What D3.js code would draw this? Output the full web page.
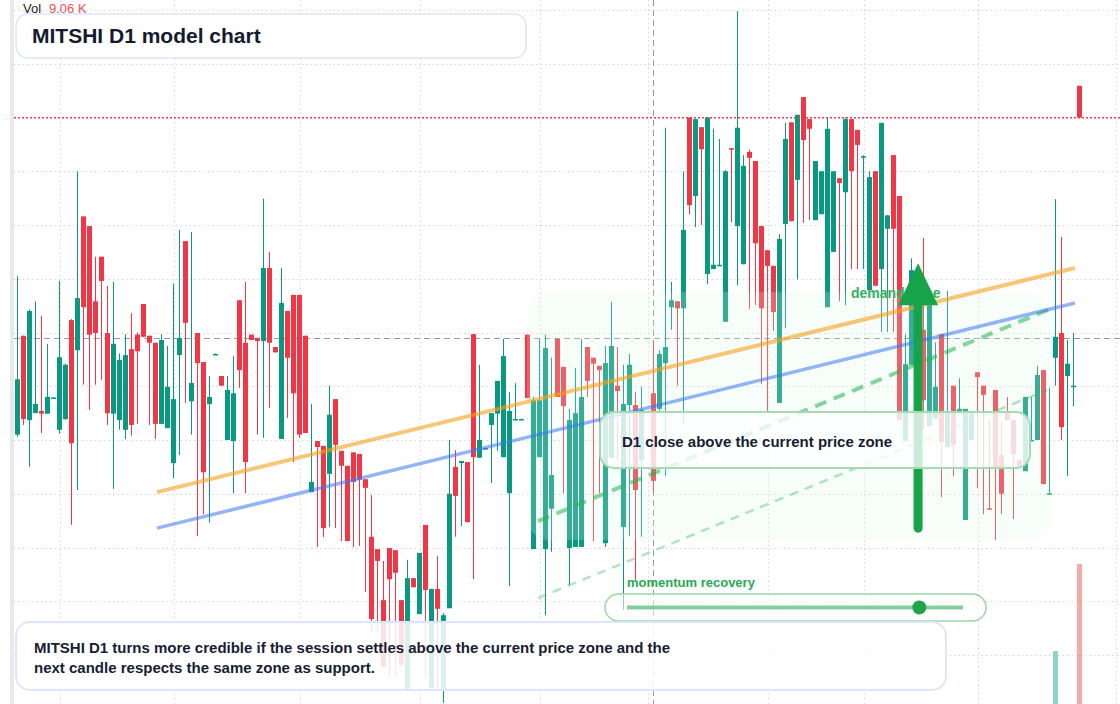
<!DOCTYPE html>
<html>
<head>
<meta charset="utf-8">
<script src="https://cdn.jsdelivr.net/npm/d3@7"></script>
<style>
html, body { margin:0; padding:0; background:#fff; }
svg { display:block; font-family:"Liberation Sans", Arial, sans-serif; }
</style>
</head>
<body>
<svg id="chart" width="1120" height="704"></svg>
<script>
// daily candles, [open, high, low, close]; null = no session
const candles = [
  [24.10,27.05,24.06,25.13],[25.94,25.94,24.28,24.39],[24.37,26.43,23.50,26.40],[24.50,26.58,24.50,24.67],
  [24.54,26.31,24.13,24.49],[24.49,25.79,24.49,24.80],[24.78,24.80,24.77,24.79],[24.19,26.96,24.12,25.54],
  [24.39,25.42,24.37,25.40],[26.23,26.25,22.42,23.94],[25.67,29.00,23.07,26.64],[28.16,28.16,25.03,26.47],
  [27.98,27.98,24.56,25.96],[26.58,27.41,25.03,25.99],[27.41,27.41,25.12,26.96],[25.99,26.87,24.28,24.50],
  [24.49,26.94,23.09,25.79],[24.37,25.61,24.19,25.49],[24.19,25.97,24.02,25.58],[25.69,26.36,24.08,24.28],
  [25.96,26.00,24.30,25.65],[26.53,26.53,25.92,25.92],[25.94,25.94,24.28,25.81],[25.81,25.81,24.02,24.30],
  [24.30,25.97,24.30,25.86],[24.22,25.75,24.22,24.99],[23.57,26.91,23.29,24.76],[25.58,27.91,23.72,25.90],
  [27.70,27.70,24.69,26.18],[24.72,27.87,24.10,25.06],[25.99,25.99,22.21,25.43],[25.45,25.45,22.62,23.40],
  [24.67,25.19,22.46,24.80],[25.60,25.61,25.59,25.60],[25.19,25.19,25.01,25.01],[24.00,25.19,24.00,24.93],
  [23.98,25.56,23.01,24.87],[26.60,26.60,24.97,25.30],[25.81,26.94,23.01,23.59],[25.96,25.96,25.86,25.86],
  [25.90,25.90,24.10,25.84],[25.84,28.49,24.04,27.20],[27.20,27.50,24.60,25.81],[25.73,25.73,25.63,25.63],
  [24.02,27.20,24.02,26.55],[26.40,26.40,24.41,25.53],[26.70,26.70,23.59,24.87],[26.70,26.70,24.04,24.10],
  [25.94,25.94,24.13,24.13],[23.03,24.67,23.03,23.22],[23.98,23.98,22.01,23.87],[23.89,23.89,22.19,22.36],
  [23.37,25.01,22.38,24.47],[24.76,24.76,22.36,23.91],[23.80,23.80,22.12,23.52],[23.52,23.52,22.12,22.12],
  [23.77,23.77,22.01,23.22],[23.74,23.74,22.03,23.26],[23.27,23.27,21.17,23.11],[22.20,22.98,20.43,20.67],
  [21.97,21.97,20.41,21.75],[21.02,21.75,19.78,19.78],[21.99,21.99,19.61,21.41],[21.95,21.95,19.61,21.53],
  [21.02,21.02,19.78,19.82],[19.35,21.77,19.35,21.43],[21.43,21.43,21.26,21.26],[20.76,21.90,20.76,21.90],
  [22.42,22.42,19.59,21.21],[19.39,21.23,19.39,21.23],[21.23,21.84,19.35,20.86],[19.35,20.78,19.11,20.74],
  [20.87,24.00,20.87,23.00],[23.50,23.81,22.20,22.96],[23.57,23.61,22.40,23.61],[23.59,23.59,22.47,22.47],
  [25.97,25.97,21.41,23.68],[23.67,25.40,23.67,24.00],[23.85,23.86,23.84,23.85],[24.28,24.50,23.20,24.50],
  [24.49,25.10,23.80,25.10],[23.68,25.88,23.68,25.56],[23.01,24.89,21.28,24.54],[24.39,25.06,24.38,24.39],
  [24.39,24.40,24.38,24.39],[25.96,25.96,24.78,24.78],[21.97,24.80,21.97,24.74],[23.68,25.88,23.68,24.74],
  [21.97,25.96,20.74,25.71],[22.72,25.53,21.92,23.35],[25.88,25.88,24.80,24.80],[25.36,25.36,23.01,24.63],
  [21.99,24.58,21.30,24.37],[22.01,25.34,22.01,24.50],[22.01,25.88,22.01,24.80],[25.73,25.73,24.80,25.10],
  [25.53,25.53,22.12,25.42],[25.38,25.38,23.01,25.30],[22.08,25.75,22.01,25.43],[23.67,26.57,23.67,25.75],
  [25.01,25.73,23.63,24.91],[22.38,25.40,20.84,24.67],[24.65,25.60,22.21,25.40],[24.65,24.89,21.40,23.07],
  [23.63,24.99,22.20,24.56],null,[24.87,25.86,23.00,23.24],[24.58,25.67,24.52,25.60],
  [25.43,29.81,23.33,25.73],[26.47,26.94,26.05,26.60],[26.58,26.58,25.01,26.45],[26.45,29.00,24.30,27.91],
  [30.00,30.00,28.20,28.37],[28.54,29.97,27.96,29.97],[29.82,29.82,28.00,29.41],[27.09,30.00,26.90,30.00],
  [27.18,29.79,27.18,27.26],[27.26,29.60,27.25,27.26],[26.20,29.02,26.20,29.00],[29.43,29.43,28.05,29.40],
  [27.98,31.98,26.88,29.81],[27.27,29.30,27.27,29.10],[29.36,29.40,26.44,29.25],[29.19,29.19,26.51,27.66],
  [27.98,27.98,25.04,26.45],[27.53,27.53,24.54,27.24],[27.24,27.24,26.03,26.38],[24.69,27.83,24.69,27.74],
  [28.02,29.90,26.08,29.60],[29.91,29.91,28.07,28.07],[28.84,30.05,26.99,30.05],[30.38,30.38,28.04,29.58],
  [29.97,29.97,28.09,29.79],[28.09,29.19,28.09,29.19],[28.20,29.00,28.20,29.00],[26.47,30.00,26.47,29.79],
  [27.50,29.00,27.50,29.00],[28.87,28.87,26.58,28.78],[28.61,30.00,26.51,29.97],[29.97,29.97,27.18,29.00],
  [29.77,29.77,27.18,29.49],[29.27,29.30,27.18,29.28],[26.79,29.00,26.79,28.89],[29.00,29.00,26.87,26.87],
  [27.18,29.90,26.01,29.90],[27.93,28.18,26.01,28.18],[29.30,29.30,26.01,27.93],[28.54,28.54,24.37,24.37],
  [23.98,25.97,23.98,25.41],[25.40,27.38,25.40,27.16],[24.37,26.60,24.00,26.23],[26.05,27.76,24.19,24.74],
  [24.26,26.51,24.26,26.51],[24.39,25.82,24.39,24.99],[25.97,25.97,22.94,23.96],[23.87,26.77,23.87,24.50],
  [25.01,25.01,23.33,23.91],[24.50,25.15,24.50,24.58],[22.51,24.58,22.51,24.58],[24.00,24.52,24.00,24.52],
  [25.26,25.26,23.10,25.17],[25.01,25.01,22.62,24.84],[22.73,24.37,22.71,22.72],[24.93,24.93,22.14,23.46],
  [23.72,24.35,22.62,23.00],[24.50,24.80,24.37,24.37],[24.37,24.37,22.53,23.74],[23.63,23.63,23.50,23.50],
  [23.42,24.80,23.42,24.80],[23.98,24.80,23.98,24.00],[24.00,25.38,24.00,25.21],[25.30,25.30,23.18,23.18],
  [23.00,24.97,23.00,23.01],[25.53,28.48,25.01,25.92],[25.99,27.78,24.00,24.24],[25.19,25.86,23.33,25.42],
  [25.00,25.99,24.63,25.01],[30.59,30.59,30.00,30.00]
];
const priceTicks = [20,21,22,23,24,25,26,27,28,29,30,31,32];
const timeTicks  = [7,26,47,67,87,105,125,141,160,183];
const volIndex = [173, 177];
const volValue = [3.43, 9.06];          // thousands
const lastPrice = 30.00;
const crossIndex = 106, crossPrice = 25.90;
// trend lines: [startIndex, startPrice, endIndex, endPrice]
const orangeLine = [23.25, 23.03, 176.25, 27.20];
const blueLine   = [23.25, 22.36, 176.25, 26.55];
const channelTop = [86.75, 22.49, 171.75, 26.42];
const channelBot = [86.75, 21.06, 171.6, 24.93];
// demand zone [fromIndex, toIndex, lowPrice, highPrice]
const demandZone = [84.9, 172.4, 22.14, 26.75];
// arrow [index, basePrice, tipPrice]
const arrowSpec = [150.1, 22.36, 27.29];
const momentumValue = 0.87;

const UP = "#089981", DN = "#f23645";
const svg = d3.select("#chart");
const W = 1120, H = 704;

const x = d3.scaleLinear().domain([0, 177]).range([17.5, 17.5 + 6 * 177]);
const y = d3.scaleLinear().domain([20, 32]).range([655, 10]);
const vy = d3.scaleLinear().domain([0, d3.max(volValue)]).range([704, 564]);

// left price-scale strip
svg.append("rect").attr("x",10).attr("y",0).attr("width",4).attr("height",H).attr("fill","#e9e9e9");

// grid (the last-price line replaces its own grid row)
const grid = svg.append("g").attr("stroke","#d6d6d6").attr("stroke-dasharray","1.5,3").attr("stroke-width",1);
grid.selectAll("line.h").data(priceTicks.filter(p=>p!==lastPrice)).join("line").attr("class","h")
  .attr("x1",14).attr("x2",W).attr("y1",d=>Math.round(y(d))+0.5).attr("y2",d=>Math.round(y(d))+0.5);
grid.selectAll("line.v").data(timeTicks).join("line").attr("class","v")
  .attr("x1",d=>Math.round(x(d))+0.5).attr("x2",d=>Math.round(x(d))+0.5).attr("y1",0).attr("y2",H);

// crosshair
svg.append("line").attr("x1",Math.round(x(crossIndex))-0.5).attr("x2",Math.round(x(crossIndex))-0.5)
  .attr("y1",0).attr("y2",H).attr("stroke","#9a9a9a").attr("stroke-dasharray","6,4");
svg.append("line").attr("x1",14).attr("x2",W).attr("y1",Math.round(y(crossPrice))+0.5).attr("y2",Math.round(y(crossPrice))+0.5)
  .attr("stroke","#9a9a9a").attr("stroke-dasharray","6,4");

// candles
const bars = candles.map((d,i)=>d && ({i, o:d[0], h:d[1], l:d[2], c:d[3]})).filter(Boolean);
const cg = svg.append("g");
cg.selectAll("line").data(bars).join("line")
  .attr("x1",d=>x(d.i)).attr("x2",d=>x(d.i)).attr("y1",d=>y(d.h)).attr("y2",d=>y(d.l))
  .attr("stroke",d=>d.c>=d.o?UP:DN).attr("stroke-width",1);
cg.selectAll("rect").data(bars).join("rect")
  .attr("x",d=>x(d.i)-2.5).attr("width",5)
  .attr("y",d=>y(Math.max(d.o,d.c)))
  .attr("height",d=>Math.max(1.5, Math.abs(y(d.o)-y(d.c))))
  .attr("fill",d=>d.c>=d.o?UP:DN);

// volume
svg.append("g").selectAll("rect").data(volIndex).join("rect")
  .attr("x",(d)=>x(d)-2.5).attr("width",5)
  .attr("y",(d,k)=>vy(volValue[k])).attr("height",(d,k)=>704-vy(volValue[k]))
  .attr("fill",d=>{const c=candles[d]; return c[3]>=c[0] ? "rgba(38,166,154,0.5)" : "rgba(239,83,80,0.5)";});

// last price line, drawn as red dots
const lpY = Math.round(y(lastPrice));
svg.append("g").selectAll("rect").data(d3.range(14, W, 4)).join("rect")
  .attr("x",d=>d).attr("y",lpY).attr("width",2).attr("height",1.5).attr("fill","#f23645");

// demand zone
svg.append("rect")
  .attr("x",x(demandZone[0])).attr("width",x(demandZone[1])-x(demandZone[0]))
  .attr("y",y(demandZone[3])).attr("height",y(demandZone[2])-y(demandZone[3]))
  .attr("rx",22).attr("fill","rgba(220,252,231,0.22)");

// trend lines
function seg(spec){ return [[x(spec[0]),y(spec[1])],[x(spec[2]),y(spec[3])]]; }
const lineGen = d3.line();
svg.append("path").attr("d",lineGen(seg(channelBot))).attr("stroke","rgba(34,180,80,0.35)")
  .attr("stroke-width",2.5).attr("stroke-dasharray","9,7").attr("fill","none");
svg.append("path").attr("d",lineGen(seg(channelTop))).attr("stroke","rgba(34,180,80,0.55)")
  .attr("stroke-width",4).attr("stroke-dasharray","12,8").attr("fill","none");
svg.append("path").attr("d",lineGen(seg(blueLine))).attr("stroke","rgba(59,120,240,0.55)")
  .attr("stroke-width",3.5).attr("fill","none");
svg.append("path").attr("d",lineGen(seg(orangeLine))).attr("stroke","rgba(245,160,30,0.6)")
  .attr("stroke-width",4).attr("fill","none");

// demand zone label
svg.append("text").attr("x",851).attr("y",298).attr("font-size",14).attr("font-weight","bold")
  .attr("fill","#34b05c").text("demand zone");

// arrow
const ax = x(arrowSpec[0]), aBase = y(arrowSpec[1]), aTip = y(arrowSpec[2]);
svg.append("line").attr("x1",ax).attr("x2",ax).attr("y1",aBase).attr("y2",aTip+40)
  .attr("stroke","#17a34a").attr("stroke-width",9).attr("stroke-linecap","round");
svg.append("path").attr("d",`M${ax-20},${aTip+42}L${ax+20},${aTip+42}L${ax},${aTip}Z`).attr("fill","#17a34a");

// info box
svg.append("rect").attr("x",600).attr("y",412).attr("width",430).attr("height",56).attr("rx",14)
  .attr("fill","rgba(255,255,255,0.78)").attr("stroke","#a5dbb2").attr("stroke-width",2);
svg.append("text").attr("x",622).attr("y",447).attr("font-size",15).attr("font-weight","bold")
  .attr("fill","#172033").text("D1 close above the current price zone");

// momentum widget
svg.append("text").attr("x",627).attr("y",587).attr("font-size",13).attr("font-weight","bold")
  .attr("fill","#2aa854").text("momentum recovery");
svg.append("rect").attr("x",605).attr("y",594).attr("width",381).attr("height",27).attr("rx",13.5)
  .attr("fill","rgba(255,255,255,0.55)").attr("stroke","#9ad6a8").attr("stroke-width",1.5);
const mx = d3.scaleLinear().domain([0,1]).range([627,963]);
svg.append("line").attr("x1",mx(0)).attr("x2",mx(1)).attr("y1",607.5).attr("y2",607.5)
  .attr("stroke","#84cf99").attr("stroke-width",4);
svg.append("circle").attr("cx",mx(momentumValue)).attr("cy",607.5).attr("r",7).attr("fill","#22a24b");

// bottom note
svg.append("rect").attr("x",16).attr("y",622).attr("width",930).attr("height",68).attr("rx",14)
  .attr("fill","rgba(255,255,255,0.86)").attr("stroke","#dbe6fb").attr("stroke-width",2);
const note = svg.append("text").attr("font-size",15).attr("font-weight","bold").attr("fill","#172033");
note.append("tspan").attr("x",34).attr("y",653)
  .text("MITSHI D1 turns more credible if the session settles above the current price zone and the");
note.append("tspan").attr("x",34).attr("y",673).text("next candle respects the same zone as support.");

// title
svg.append("rect").attr("x",16).attr("y",14).attr("width",510).attr("height",44).attr("rx",12)
  .attr("fill","#fff").attr("stroke","#dbe6fb").attr("stroke-width",1.5);
svg.append("text").attr("x",32).attr("y",43).attr("font-size",21).attr("font-weight","bold")
  .attr("fill","#131b2e").text("MITSHI D1 model chart");

// volume legend
const vl = svg.append("text").attr("x",23).attr("y",13).attr("font-size",13);
vl.append("tspan").attr("fill","#222").text("Vol");
vl.append("tspan").attr("x",49).attr("fill","#f0504f").text(d3.format(".2f")(volValue[volValue.length-1]) + " K");
</script>
</body>
</html>
